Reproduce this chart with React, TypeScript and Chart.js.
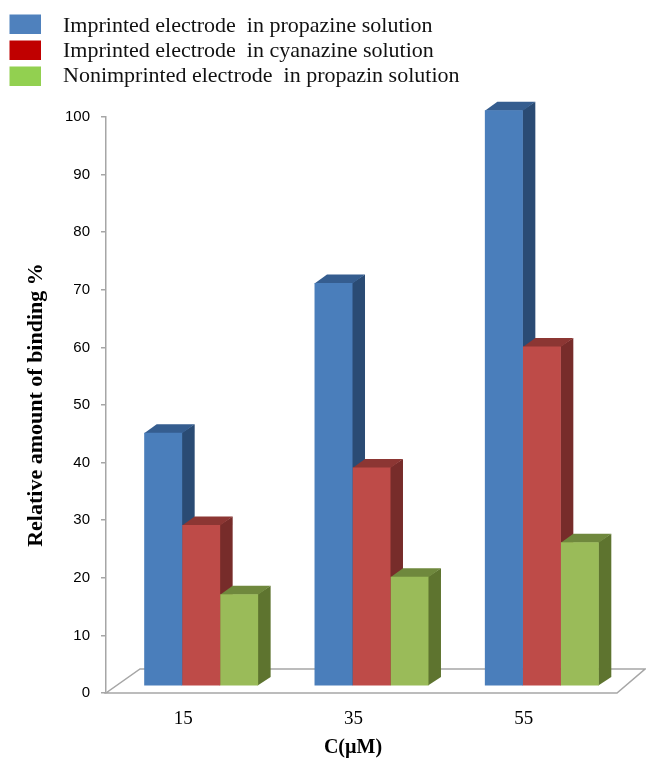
import React, { useEffect, useRef } from "react";
import { Chart, registerables } from "chart.js";

Chart.register(...registerables);

// ---- data ----
const categories = ["15", "35", "55"];
const seriesLabels = [
  "Imprinted electrode  in propazine solution",
  "Imprinted electrode  in cyanazine solution",
  "Nonimprinted electrode  in propazin solution",
];
const imprintedPropazine = [44, 70, 100];
const imprintedCyanazine = [28, 38, 59];
const nonimprintedPropazin = [16, 19, 25];
const yMin = 0;
const yMax = 100;
const yStep = 10;
const xTitle = "C(\u00b5M)";
const yTitle = "Relative amount of binding %";

// ---- styles ----
const frontColors = ["#4a7ebb", "#be4b48", "#9abb59"];
const sideColors = ["#2a4b74", "#772c2a", "#5e742f"];
const topColors = ["#355d8f", "#8c3633", "#6f883d"];
const legendColors = ["#4f81bd", "#c00000", "#92d050"];

const SHIFT_X = 10;
const SHIFT_Y = -6.7;
const DEPTH_DX = 12.5;
const DEPTH_DY = -8.5;
const FLOOR_LEFT_DX = 34;
const FLOOR_RIGHT_DX = 28;
const FLOOR_DY = -24;
const AXIS_COLOR = "#a6a6a6";

const bar3dPlugin = {
  id: "bar3d",
  beforeDatasetsDraw(chart: any) {
    const { ctx, chartArea: a } = chart;
    ctx.save();
    ctx.beginPath();
    ctx.moveTo(a.left, a.bottom);
    ctx.lineTo(a.right, a.bottom);
    ctx.lineTo(a.right + FLOOR_RIGHT_DX, a.bottom + FLOOR_DY);
    ctx.lineTo(a.left + FLOOR_LEFT_DX, a.bottom + FLOOR_DY);
    ctx.closePath();
    ctx.fillStyle = "#ffffff";
    ctx.fill();
    ctx.strokeStyle = AXIS_COLOR;
    ctx.lineWidth = 1.5;
    ctx.stroke();
    ctx.restore();

    ctx.save();
    ctx.translate(SHIFT_X, SHIFT_Y);
    chart.data.datasets.forEach((_ds: any, i: number) => {
      const meta = chart.getDatasetMeta(i);
      meta.data.forEach((el: any) => {
        const { x, y, base, width } = el.getProps(["x", "y", "base", "width"], true);
        const x0 = x - width / 2;
        const x1 = x + width / 2;
        // side face
        ctx.fillStyle = sideColors[i];
        ctx.beginPath();
        ctx.moveTo(x1 - 0.5, y);
        ctx.lineTo(x1 + DEPTH_DX, y + DEPTH_DY);
        ctx.lineTo(x1 + DEPTH_DX, base + DEPTH_DY);
        ctx.lineTo(x1 - 0.5, base);
        ctx.closePath();
        ctx.fill();
        // top face
        ctx.fillStyle = topColors[i];
        ctx.beginPath();
        ctx.moveTo(x0, y + 0.5);
        ctx.lineTo(x0 + DEPTH_DX, y + DEPTH_DY);
        ctx.lineTo(x1 + DEPTH_DX, y + DEPTH_DY);
        ctx.lineTo(x1, y + 0.5);
        ctx.closePath();
        ctx.fill();
      });
    });
  },
  afterDatasetsDraw(chart: any) {
    chart.ctx.restore();
  },
  afterDraw(chart: any) {
    const { ctx, chartArea: a } = chart;
    ctx.save();
    // legend
    ctx.font = "22px 'Liberation Serif'";
    ctx.textBaseline = "alphabetic";
    ctx.textAlign = "left";
    chart.data.datasets.forEach((ds: any, i: number) => {
      const top = 14.5 + i * 26;
      ctx.fillStyle = legendColors[i];
      ctx.fillRect(9.5, top, 31.5, 19.5);
      ctx.fillStyle = "#111111";
      ctx.fillText(ds.label, 63, top + 17.5 - i * 0.8);
    });
    // x title
    ctx.font = "bold 20px 'Liberation Serif'";
    ctx.textAlign = "center";
    ctx.textBaseline = "middle";
    ctx.fillStyle = "#000000";
    ctx.fillText(xTitle, (a.left + a.right) / 2 - 8.5, 748);
    ctx.restore();
  },
};

export default function App() {
  const canvasRef = useRef<HTMLCanvasElement | null>(null);

  useEffect(() => {
    if (!canvasRef.current) return;
    const seriesValues = [imprintedPropazine, imprintedCyanazine, nonimprintedPropazin];
    const chart = new Chart(canvasRef.current, {
      type: "bar",
      data: {
        labels: categories,
        datasets: seriesValues.map((vals, i) => ({
          label: seriesLabels[i],
          data: vals,
          backgroundColor: frontColors[i],
          borderWidth: 0,
          categoryPercentage: 0.669,
          barPercentage: 1,
          clip: false as any,
        })),
      },
      options: {
        responsive: false,
        animation: false,
        devicePixelRatio: 1,
        layout: { padding: { top: 117, right: 29, bottom: 0, left: 0 } },
        plugins: {
          legend: { display: false },
          tooltip: { enabled: false },
          title: { display: false },
        },
        scales: {
          x: {
            afterFit: (s: any) => {
              s.height = 69;
            },
            grid: { display: false, drawTicks: false },
            border: { display: false },
            ticks: {
              color: "#000000",
              font: { family: "'Liberation Serif'", size: 19 },
              padding: 15,
              labelOffset: -8,
            },
          },
          y: {
            min: yMin,
            max: yMax,
            afterFit: (s: any) => {
              s.width = 106;
            },
            grid: {
              drawOnChartArea: false,
              drawTicks: true,
              tickLength: 5,
              color: AXIS_COLOR,
              lineWidth: 1.5,
            },
            border: { display: true, color: AXIS_COLOR, width: 1.5 },
            ticks: {
              stepSize: yStep,
              color: "#000000",
              font: { family: "'Liberation Sans'", size: 15 },
              padding: 11,
            },
            title: {
              display: true,
              text: yTitle,
              color: "#000000",
              font: { family: "'Liberation Serif'", size: 22, weight: "bold" },
              padding: { top: 23, bottom: 0 },
            },
          },
        },
      },
      plugins: [bar3dPlugin],
    });
    return () => chart.destroy();
  }, []);

  return (
    <div style={{ position: "fixed", left: 0, top: 0, width: 646, height: 762, background: "#ffffff" }}>
      <canvas ref={canvasRef} width={646} height={762} />
    </div>
  );
}
